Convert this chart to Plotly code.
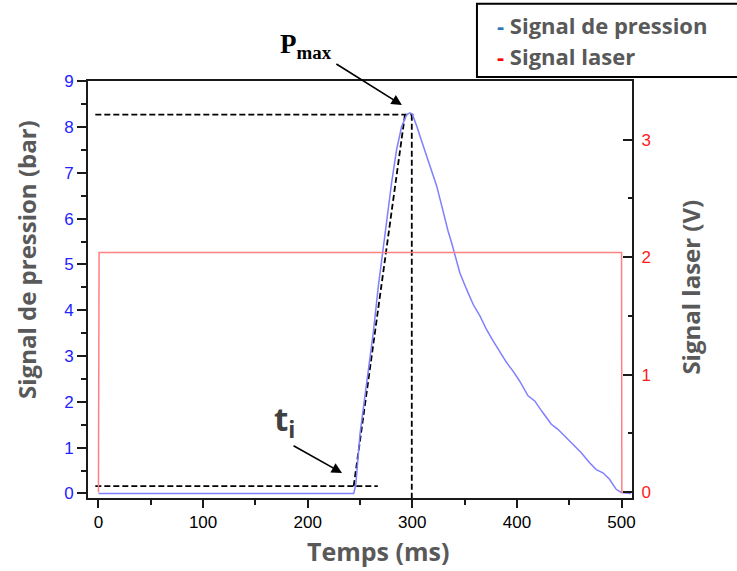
import plotly.graph_objects as go

# ---------------- data ----------------
# Pressure signal (bar) vs time (ms)
pressure_t = [0, 244, 246, 250, 256.4, 262.7, 267.5, 271.6, 275.4, 280.2, 285, 289.8,
              294.6, 297.7, 300, 304.1, 310.4, 316.8, 323.2, 327.9, 331.1, 334.3, 337.5,
              340.6, 345.4, 351.8, 358.1, 364.5, 370.9, 377.2, 383.6, 390, 396.3, 402.7,
              410.6, 417, 424.9, 432.9, 439.2, 447.2, 455.2, 461.5, 469.5, 475.8, 482.2,
              488.5, 494.9, 499.7, 509]
pressure_v = [0.0, 0.0, 0.2, 1.3, 2.42, 3.51, 4.52, 5.25, 5.98, 6.78, 7.51, 8.01,
              8.27, 8.31, 8.28, 8.03, 7.59, 7.15, 6.72, 6.30, 5.98, 5.72, 5.48,
              5.22, 4.82, 4.46, 4.13, 3.88, 3.58, 3.33, 3.08, 2.86, 2.67, 2.45,
              2.13, 2.02, 1.76, 1.51, 1.40, 1.22, 1.03, 0.89, 0.67, 0.52, 0.45,
              0.31, 0.09, 0.02, 0.0]

# Laser signal (V) vs time (ms)
laser_t = [0, 0.6, 500, 500.3, 508]
laser_v = [0, 2.04, 2.04, 0, 0]

# Construction lines (dashed)
ti_line_t = [-3, 267]
ti_line_v = [0.16, 0.16]
tangent_t = [244, 293]
tangent_v = [0.16, 8.27]
pmax_line_t = [-3, 301]
pmax_line_v = [8.27, 8.27]
tpeak_line_t = [299.5, 299.5]
tpeak_line_v = [8.27, -0.1]

x_ticks = [0, 100, 200, 300, 400, 500]
y_ticks = [0, 1, 2, 3, 4, 5, 6, 7, 8, 9]
y2_ticks = [0, 1, 2, 3]

GRAY = "#595959"
BLUE_TXT = "#2222ff"
RED_TXT = "#ff1a1a"
AXC = "#1a1a1a"

fig = go.Figure()

dash_style = dict(color="black", width=1.8, dash="6px,3px")
for xs, ys in [(ti_line_t, ti_line_v), (tangent_t, tangent_v),
               (pmax_line_t, pmax_line_v), (tpeak_line_t, tpeak_line_v)]:
    fig.add_trace(go.Scatter(x=xs, y=ys, mode="lines", line=dash_style,
                             showlegend=False, hoverinfo="skip"))

fig.add_trace(go.Scatter(x=laser_t, y=laser_v, mode="lines", yaxis="y2",
                         line=dict(color="#ff8080", width=1.5), showlegend=False))
fig.add_trace(go.Scatter(x=pressure_t, y=pressure_v, mode="lines",
                         line=dict(color="#7f7fff", width=1.5), showlegend=False))

tickfont = dict(family="Liberation Sans, Arial, sans-serif", size=17)

fig.update_layout(
    width=737, height=571,
    margin=dict(l=88, r=105, t=81, b=73),
    plot_bgcolor="white", paper_bgcolor="white",
    showlegend=False,
    xaxis=dict(range=[-10, 510], tickvals=x_ticks, ticks="outside", ticklen=8,
               tickwidth=1.5, tickcolor=AXC, showline=True, linecolor=AXC,
               linewidth=2, mirror=True, showgrid=False, zeroline=False,
               tickfont=dict(color="black", **tickfont),
               minor=dict(dtick=50, tick0=0, ticks="outside", ticklen=5,
                          tickcolor=AXC, tickwidth=1.5, showgrid=False)),
    yaxis=dict(range=[-0.1, 9.005], tickvals=y_ticks, ticks="outside", ticklen=9,
               tickwidth=1.5, tickcolor=AXC, showline=True, linecolor=AXC,
               linewidth=2, mirror=True, showgrid=False, zeroline=False,
               tickfont=dict(color=BLUE_TXT, **tickfont),
               minor=dict(dtick=0.5, tick0=0, ticks="outside", ticklen=5,
                          tickcolor=AXC, tickwidth=1.5, showgrid=False)),
    yaxis2=dict(range=[-0.05, 3.5], tickvals=y2_ticks, overlaying="y", side="right",
                ticks="inside", ticklen=9, tickwidth=1.5, tickcolor=AXC,
                showline=True, linecolor=AXC, linewidth=2, showgrid=False,
                zeroline=False, ticklabelstandoff=4,
                tickfont=dict(color=RED_TXT, **tickfont),
                minor=dict(dtick=0.5, tick0=0, ticks="inside", ticklen=4,
                           tickcolor=AXC, tickwidth=1.5, showgrid=False)),
)

def tf(size, color=GRAY):
    return dict(family="Open Sans, sans-serif", size=size, color=color, weight="bold")

anns = [
    dict(text="Signal de pression (bar)", x=-0.112, y=0.571, textangle=-90, font=tf(24)),
    dict(text="Signal laser (V)", x=1.107, y=0.505, textangle=-90, font=tf(24)),
    dict(text="Temps (ms)", x=0.533, y=-0.127, font=tf(25)),
    dict(text="P<sub>max</sub>", x=0.401, y=1.084,
         font=dict(family="Liberation Serif, Times New Roman, serif", size=27,
                   color="black", weight="bold")),
    dict(text="t<sub>i</sub>", x=0.362, y=0.185, font=tf(33, "#404040")),
    dict(text="<span style='color:#2e75b6'>-</span> Signal de pression",
         x=0.748, y=1.134, xanchor="left", font=tf(22)),
    dict(text="<span style='color:#ff0000'>-</span> Signal laser",
         x=0.748, y=1.06, xanchor="left", font=tf(22)),
]
for a in anns:
    a.setdefault("xanchor", "center")
    fig.add_annotation(xref="paper", yref="paper", yanchor="middle",
                       showarrow=False, **a)

# arrows
for hx, hy, ax, ay in [(0.577, 0.9424, -67, -42), (0.467, 0.060, -50, -28)]:
    fig.add_annotation(xref="paper", yref="paper", x=hx, y=hy, ax=ax, ay=ay,
                       text="", showarrow=True, arrowhead=2, arrowsize=1.3,
                       arrowwidth=1.6, arrowcolor="black")

# legend box
fig.add_shape(type="rect", xref="paper", yref="paper", x0=0.715, x1=1.2,
              y0=1.0096, y1=1.185, line=dict(color="black", width=2),
              fillcolor="rgba(0,0,0,0)", layer="above")

fig.write_html("out.html", config={"displayModeBar": False},
               post_script="document.body.style.margin='0px';")
